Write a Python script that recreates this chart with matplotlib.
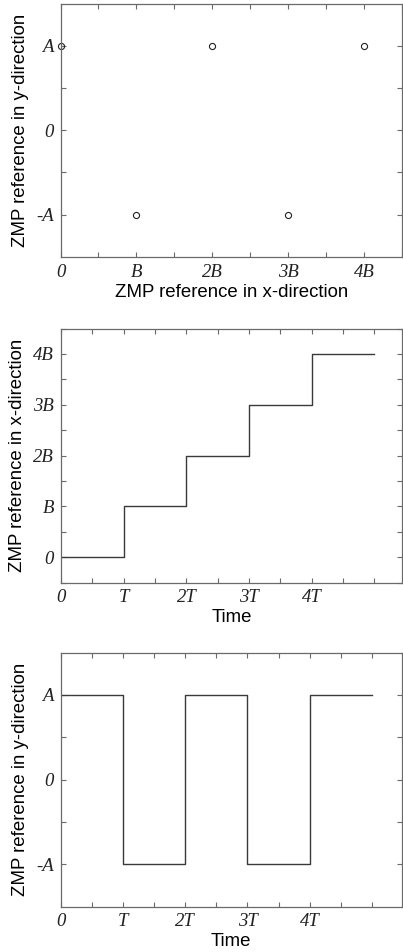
import matplotlib
matplotlib.use("Agg")
import matplotlib.pyplot as plt
import numpy as np

# Data
fp_x = [0, 1, 2, 3, 4]          # in units of B
fp_y = [1, -1, 1, -1, 1]        # in units of A
x_ticks_B = [0, 1, 2, 3, 4]
x_ticklabels_B = ["0", "B", "2B", "3B", "4B"]
y_ticks_A = [-1, 0, 1]
y_ticklabels_A = ["-A", "0", "A"]

t_edges = [0, 1, 2, 3, 4, 5]    # in units of T
zx_steps = [0, 1, 2, 3, 4]      # in units of B
zy_steps = [1, -1, 1, -1, 1]    # in units of A
t_ticks = [0, 1, 2, 3, 4]
t_ticklabels = ["0", "T", "2T", "3T", "4T"]
x_ticks_step = [0, 1, 2, 3, 4]
x_ticklabels_step = ["0", "B", "2B", "3B", "4B"]

W, H = 403, 952
fig = plt.figure(figsize=(W / 100, H / 100), dpi=100)

sans = {"family": "Liberation Sans", "size": 13.4}
spine_c = "#6a6a6a"
line_c = "#3a3a3a"

def ax_at(l, t, r, b):
    return fig.add_axes([l / W, 1 - b / H, (r - l) / W, (b - t) / H])

def style(ax):
    for s in ax.spines.values():
        s.set_color(spine_c)
        s.set_linewidth(0.9)
    ax.tick_params(which="both", direction="in", top=True, right=True,
                   length=3.5, width=0.8, color=spine_c, pad=5)
    for lab in ax.get_xticklabels() + ax.get_yticklabels():
        lab.set_fontfamily("Liberation Serif")
        lab.set_fontstyle("italic")
        lab.set_fontsize(13.5)
        lab.set_color("#222222")

# Plot 1
ax1 = ax_at(60.5, 3.5, 402, 257)
ax1.plot(fp_x, fp_y, linestyle="none", marker="o", markersize=4.4,
         markerfacecolor="none", markeredgecolor="#222222", markeredgewidth=0.8,
         clip_on=False)
ax1.set_xlim(0, 4.5)
ax1.set_ylim(-1.5, 1.5)
ax1.set_xticks(x_ticks_B)
ax1.set_xticklabels(x_ticklabels_B)
ax1.set_xticks(np.arange(0, 4.51, 0.5), minor=True)
ax1.set_yticks(y_ticks_A)
ax1.set_yticklabels(y_ticklabels_A)
ax1.set_yticks([-0.5, 0.5], minor=True)
ax1.set_xlabel("ZMP reference in x-direction", fontdict=sans, labelpad=2)
ax1.set_ylabel("ZMP reference in y-direction", fontdict=sans, labelpad=5)
style(ax1)

# Plot 2
ax2 = ax_at(61, 328.5, 402, 582.5)
tx = np.repeat(t_edges, 2)[1:-1]
ax2.plot(tx, np.repeat(zx_steps, 2), color=line_c, linewidth=1.0)
ax2.set_xlim(0, 5.44)
ax2.set_ylim(-0.5, 4.5)
ax2.set_xticks(t_ticks)
ax2.set_xticklabels(t_ticklabels)
ax2.set_xticks(np.arange(0, 5.01, 0.5), minor=True)
ax2.set_yticks(x_ticks_step)
ax2.set_yticklabels(x_ticklabels_step)
ax2.set_yticks(np.arange(-0.5, 4.51, 0.5), minor=True)
ax2.set_xlabel("Time", fontdict=sans, labelpad=2)
ax2.set_ylabel("ZMP reference in x-direction", fontdict=sans, labelpad=5)
style(ax2)

# Plot 3
ax3 = ax_at(60.5, 652.5, 402, 906.5)
ax3.plot(tx, np.repeat(zy_steps, 2), color=line_c, linewidth=1.0)
ax3.set_xlim(0, 5.48)
ax3.set_ylim(-1.5, 1.5)
ax3.set_xticks(t_ticks)
ax3.set_xticklabels(t_ticklabels)
ax3.set_xticks(np.arange(0, 5.01, 0.5), minor=True)
ax3.set_yticks(y_ticks_A)
ax3.set_yticklabels(y_ticklabels_A)
ax3.set_yticks([-0.5, 0.5], minor=True)
ax3.set_xlabel("Time", fontdict=sans, labelpad=2)
ax3.set_ylabel("ZMP reference in y-direction", fontdict=sans, labelpad=5)
style(ax3)

fig.savefig("out.png", dpi=100)
